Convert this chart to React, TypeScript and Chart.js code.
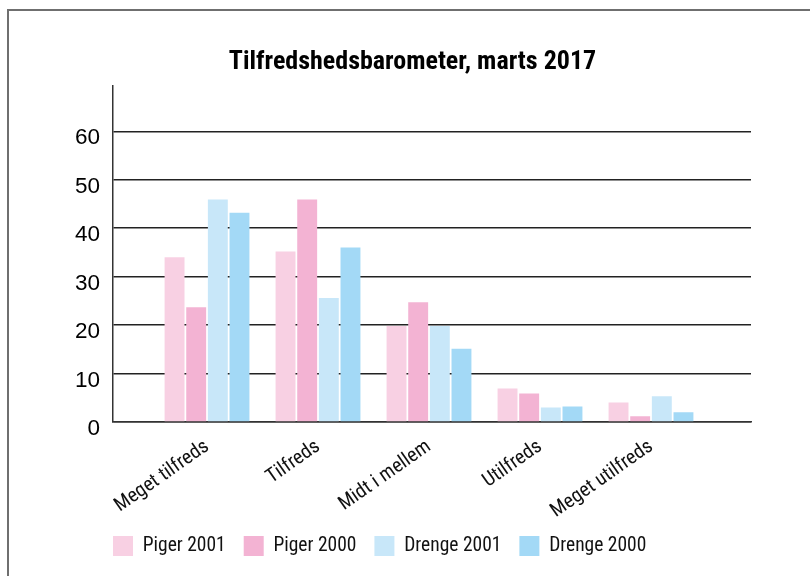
import React, { useEffect, useRef } from "react";
import { Chart, registerables } from "chart.js";

Chart.register(...registerables);

const categories = ["Meget tilfreds", "Tilfreds", "Midt i mellem", "Utilfreds", "Meget utilfreds"];
const seriesNames = ["Piger 2001", "Piger 2000", "Drenge 2001", "Drenge 2000"];
const piger2001 = [34.0, 35.2, 19.8, 6.9, 4.0];
const piger2000 = [23.7, 45.9, 24.7, 5.9, 1.2];
const drenge2001 = [45.9, 25.6, 19.8, 3.0, 5.3];
const drenge2000 = [43.2, 36.0, 15.1, 3.2, 2.0];
const yTicks = [0, 10, 20, 30, 40, 50, 60];
const colors = ["#f8d0e3", "#f3b3d3", "#c8e7f9", "#a3d9f6"];

const NARROW = "'Roboto Condensed', 'DejaVu Sans Condensed', sans-serif";
const REGULAR = "'Liberation Sans', Arial, sans-serif";

const shiftBlocks = {
  id: "shiftBlocks",
  afterLayout(chart: any) {
    if (chart.titleBlock) {
      chart.titleBlock.left = 0;
      chart.titleBlock.right = 825;
    }
    if (chart.legend) {
      chart.legend.left = 95;
    }
  },
};

export default function App() {
  const ref = useRef<HTMLCanvasElement | null>(null);
  useEffect(() => {
    if (!ref.current) return;
    const all = [piger2001, piger2000, drenge2001, drenge2000];
    const chart = new Chart(ref.current, {
      type: "bar",
      data: {
        datasets: all.map((arr, i) => ({
          label: seriesNames[i],
          data: arr.map((v, j) => ({ x: j, y: v })),
          backgroundColor: colors[i],
          borderWidth: 0,
          categoryPercentage: 0.78,
          barPercentage: 0.92,
        })),
      },
      plugins: [shiftBlocks],
      options: {
        responsive: false,
        animation: false,
        devicePixelRatio: 1,
        layout: { padding: { left: 0, right: 59, top: 0, bottom: 10 } },
        plugins: {
          tooltip: { enabled: false },
          title: {
            display: true,
            text: "Tilfredshedsbarometer, marts 2017",
            color: "#000",
            font: { family: NARROW, size: 26, weight: "bold" },
            padding: { top: 47, bottom: 8 },
          },
          legend: {
            display: true,
            position: "bottom",
            align: "start",
            labels: {
              color: "#111",
              font: { family: NARROW, size: 19.5 },
              boxWidth: 20,
              boxHeight: 20,
              padding: 18,
            },
          },
        },
        scales: {
          x: {
            type: "linear",
            min: -0.847,
            max: 4.901,
            offset: false,
            grid: { display: false, drawTicks: false },
            border: { display: true, color: "#333", width: 1.5 },
            afterBuildTicks: (axis: any) => {
              axis.ticks = categories.map((_, i) => ({ value: i }));
            },
            afterFit: (axis: any) => {
              axis.height = 96;
            },
            ticks: {
              autoSkip: false,
              minRotation: 35,
              maxRotation: 35,
              padding: 13,
              color: "#111",
              font: { family: NARROW, size: 20 },
              callback: (v: any) => categories[v] ?? "",
            },
          },
          y: {
            min: 0,
            max: 69.3,
            grid: { color: "#222", lineWidth: 1.5, drawTicks: false },
            border: { display: true, color: "#333", width: 1.5 },
            afterBuildTicks: (axis: any) => {
              axis.ticks = yTicks.map((v) => ({ value: v }));
            },
            afterFit: (axis: any) => {
              axis.width = 113;
            },
            ticks: {
              stepSize: 10,
              padding: 13,
              labelOffset: 7,
              color: "#000",
              font: { family: REGULAR, size: 22.5 },
            },
          },
        },
      },
    });
    return () => chart.destroy();
  }, []);
  return (
    <div style={{ position: "fixed", left: 0, top: 0, width: 810, height: 576, background: "#fff" }}>
      <div
        style={{
          position: "absolute",
          left: 7,
          top: 9,
          right: 0,
          bottom: 0,
          borderLeft: "2px solid #6f6f6f",
          borderTop: "2px solid #6f6f6f",
        }}
      />
      <canvas ref={ref} width={810} height={576} style={{ position: "absolute", left: 0, top: 0, width: 810, height: 576 }} />
    </div>
  );
}
